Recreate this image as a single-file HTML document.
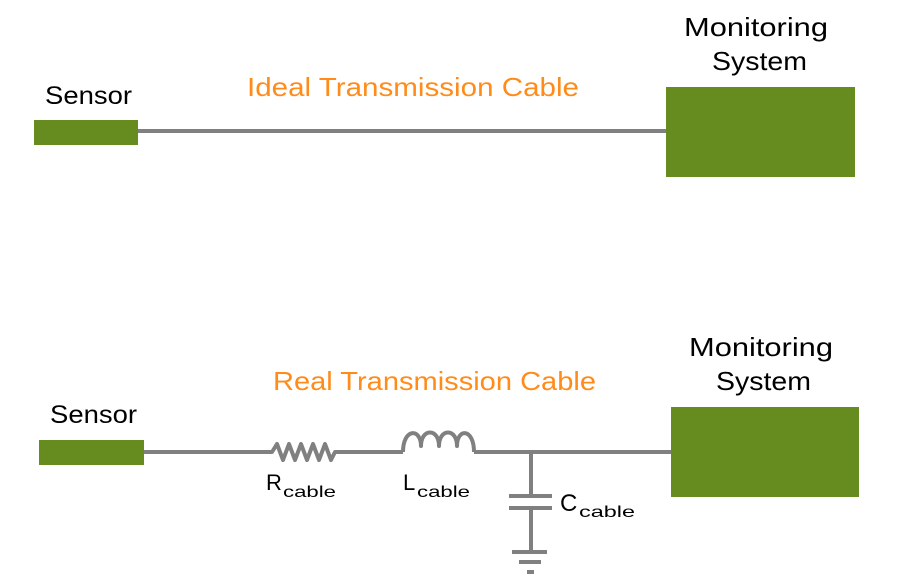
<!DOCTYPE html>
<html><head><style>
html,body{margin:0;padding:0;background:#fff;}
svg{display:block;}
text{font-family:"Liberation Sans",sans-serif;}
</style></head><body>
<svg width="899" height="586" viewBox="0 0 899 586" xmlns="http://www.w3.org/2000/svg">
<!-- Top -->
<line x1="138" y1="131" x2="667" y2="131" stroke="#808080" stroke-width="4"/>
<rect x="34" y="120" width="104" height="25" fill="#668b1f"/>
<rect x="666" y="87" width="189" height="90" fill="#668b1f"/>
<text x="45" y="104" font-size="25" fill="#000" textLength="87" lengthAdjust="spacingAndGlyphs">Sensor</text>
<text x="247" y="96" font-size="26" fill="#ff8c1a" textLength="332" lengthAdjust="spacingAndGlyphs">Ideal Transmission Cable</text>
<text x="684" y="36" font-size="26" fill="#000" textLength="144" lengthAdjust="spacingAndGlyphs">Monitoring</text>
<text x="712" y="70" font-size="26" fill="#000" textLength="95" lengthAdjust="spacingAndGlyphs">System</text>

<!-- Bottom -->
<g stroke="#808080" stroke-width="4" fill="none" stroke-linejoin="round">
<line x1="144" y1="452" x2="268" y2="452"/>
<polyline points="268,452 272,452 277,444 283,460 289,444 295,460 301,444 307,460 313,444 319,460 325,444 331,460 335,452 403,452"/>
<path d="M403,452 C403,428 421,428 421,446 C421,428 439,428 439,446 C439,428 457,428 457,446 C457,428 474,428 474,452"/>
<line x1="474" y1="452" x2="671" y2="452"/>
<line x1="531" y1="452" x2="531" y2="496"/>
<line x1="509" y1="496" x2="552" y2="496"/>
<line x1="509" y1="508" x2="552" y2="508"/>
<line x1="531" y1="508" x2="531" y2="552"/>
<line x1="512" y1="552" x2="547" y2="552"/>
<line x1="519" y1="562" x2="541" y2="562"/>
<line x1="527" y1="572" x2="534" y2="572"/>
</g>
<rect x="39" y="440" width="105" height="25" fill="#668b1f"/>
<rect x="671" y="407" width="188" height="90" fill="#668b1f"/>
<text x="50" y="423" font-size="25" fill="#000" textLength="87" lengthAdjust="spacingAndGlyphs">Sensor</text>
<text x="273" y="390" font-size="26" fill="#ff8c1a" textLength="323" lengthAdjust="spacingAndGlyphs">Real Transmission Cable</text>
<text x="689" y="356" font-size="26" fill="#000" textLength="144" lengthAdjust="spacingAndGlyphs">Monitoring</text>
<text x="716" y="390" font-size="26" fill="#000" textLength="95" lengthAdjust="spacingAndGlyphs">System</text>
<text x="266" y="490" font-size="22" fill="#000">R</text>
<text x="283" y="497" font-size="16" fill="#000" textLength="53" lengthAdjust="spacingAndGlyphs">cable</text>
<text x="403" y="490" font-size="22" fill="#000">L</text>
<text x="417" y="497" font-size="16" fill="#000" textLength="53" lengthAdjust="spacingAndGlyphs">cable</text>
<text x="560" y="511" font-size="24" fill="#000">C</text>
<text x="579" y="517" font-size="16" fill="#000" textLength="56" lengthAdjust="spacingAndGlyphs">cable</text>
</svg>
</body></html>
